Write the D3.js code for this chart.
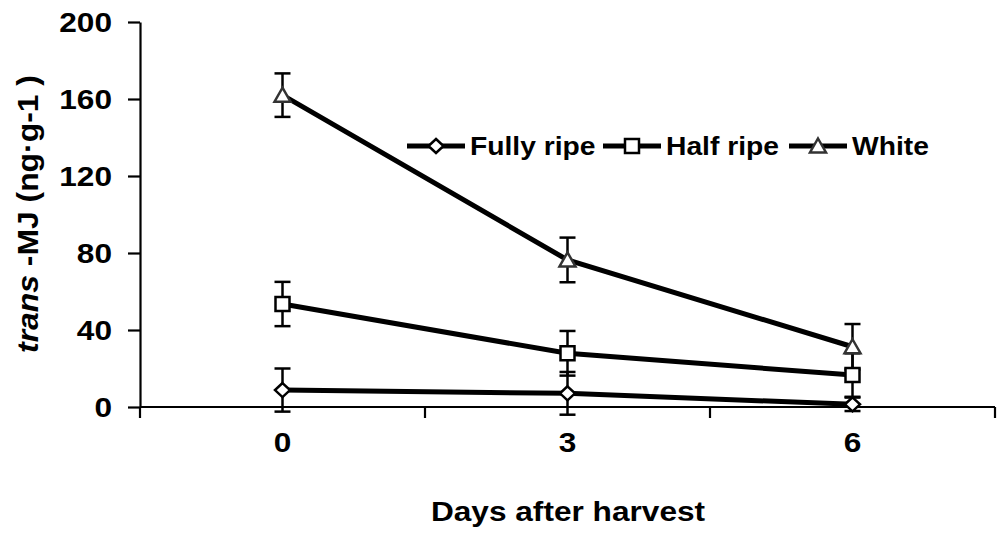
<!DOCTYPE html>
<html>
<head>
<meta charset="utf-8">
<script src="https://cdn.jsdelivr.net/npm/d3@7"></script>
<style>
  body { margin: 0; background: #fff; }
  svg { display: block; font-family: Arial, "Liberation Sans", sans-serif; font-weight: bold; }
</style>
</head>
<body>
<div id="chart"></div>
<script>
const days = ["0", "3", "6"];
const seriesNames = ["Fully ripe", "Half ripe", "White"];
const fullyRipe = [8.8, 7.1, 1.4];
const fullyRipeSd = [11.2, 11.1, 3.5];
const halfRipe = [53.5, 27.9, 16.6];
const halfRipeSd = [11.5, 11.6, 11.3];
const white = [162, 76.4, 31.3];
const whiteSd = [11.3, 11.6, 11.8];
const yTicks = [0, 40, 80, 120, 160, 200];

const width = 998, height = 533;
const stretch = 1.13; // text in the original is a bit wider than normal

const svg = d3.select("#chart").append("svg")
  .attr("width", width)
  .attr("height", height);

const x = d3.scaleBand().domain(days).range([140, 995]).padding(0);
const y = d3.scaleLinear().domain([0, 200]).range([407, 22]);

// y axis
svg.append("g")
  .attr("transform", "translate(140,0)")
  .call(d3.axisLeft(y).tickValues(yTicks).tickSize(12).tickSizeOuter(0).tickFormat(""))
  .call(g => g.selectAll("path, line").attr("stroke", "#000").attr("stroke-width", 2.2));

svg.append("g").selectAll("text")
  .data(yTicks)
  .enter().append("text")
  .attr("transform", d => `translate(112,${y(d) + 10}) scale(${stretch},1)`)
  .attr("text-anchor", "end")
  .style("font-size", "28px")
  .text(d => d);

// x axis
svg.append("line")
  .attr("x1", x.range()[0]).attr("x2", x.range()[1])
  .attr("y1", y(0)).attr("y2", y(0))
  .attr("stroke", "#000").attr("stroke-width", 2.2);

const edges = days.map(d => x(d)).concat([x.range()[1]]);
svg.append("g").selectAll("line")
  .data(edges)
  .enter().append("line")
  .attr("x1", d => d).attr("x2", d => d)
  .attr("y1", y(0)).attr("y2", y(0) + 11)
  .attr("stroke", "#000").attr("stroke-width", 2.2);

svg.append("g").selectAll("text")
  .data(days)
  .enter().append("text")
  .attr("transform", d => `translate(${x(d) + x.bandwidth() / 2},452) scale(${stretch},1)`)
  .attr("text-anchor", "middle")
  .style("font-size", "28px")
  .text(d => d);

svg.append("text")
  .attr("transform", `translate(568,521) scale(${stretch},1)`)
  .attr("text-anchor", "middle")
  .style("font-size", "28px")
  .text("Days after harvest");

// y title
const yTitle = svg.append("text")
  .attr("text-anchor", "middle")
  .style("font-size", "26px");
yTitle.append("tspan").style("font-style", "italic").text("trans");
yTitle.append("tspan").text(" -MJ (ng·g-1 )");
const natural = yTitle.node().getComputedTextLength();
yTitle.attr("transform", `translate(38,214) rotate(-90) scale(${278 / natural},${stretch})`);

// series
const series = [
  { name: seriesNames[0], values: fullyRipe, sd: fullyRipeSd, shape: "diamond", color: "#000" },
  { name: seriesNames[1], values: halfRipe, sd: halfRipeSd, shape: "square", color: "#000" },
  { name: seriesNames[2], values: white, sd: whiteSd, shape: "triangle", color: "#333" }
];

function markerPath(shape) {
  if (shape === "diamond") return "M0,-7L7.5,0L0,7L-7.5,0Z";
  if (shape === "square") return "M-7,-7H7V7H-7Z";
  return "M0,-7.5L8,6.5L-8,6.5Z";
}

const cx = d => x(d) + x.bandwidth() / 2;
const line = d3.line().x(d => cx(d.day)).y(d => y(d.v));

series.forEach(s => {
  const pts = days.map((d, i) => ({ day: d, v: s.values[i], sd: s.sd[i] }));
  const eb = svg.append("g").attr("stroke", "#000").attr("stroke-width", 2.5);
  eb.selectAll(".v").data(pts).enter().append("line")
    .attr("x1", d => cx(d.day)).attr("x2", d => cx(d.day))
    .attr("y1", d => y(d.v - d.sd)).attr("y2", d => y(d.v + d.sd));
  eb.selectAll(".t").data(pts.flatMap(p => [p.v - p.sd, p.v + p.sd].map(v => ({ day: p.day, v }))))
    .enter().append("line")
    .attr("x1", d => cx(d.day) - 8).attr("x2", d => cx(d.day) + 8)
    .attr("y1", d => y(d.v)).attr("y2", d => y(d.v));
  s.pts = pts;
});

series.forEach(s => {
  svg.append("path")
    .datum(s.pts)
    .attr("d", line)
    .attr("fill", "none")
    .attr("stroke", "#000")
    .attr("stroke-width", 5);
});

series.forEach(s => {
  svg.append("g").selectAll("path")
    .data(s.pts)
    .enter().append("path")
    .attr("transform", d => `translate(${cx(d.day)},${y(d.v)})`)
    .attr("d", markerPath(s.shape))
    .attr("fill", "#fff")
    .attr("stroke", s.color)
    .attr("stroke-width", 2.5);
});

// legend
const legendX = [470, 666, 852];
const legendY = 155;
series.forEach((s, i) => {
  const g = svg.append("g");
  g.append("line")
    .attr("x1", legendX[i] - 63).attr("x2", legendX[i] - 5)
    .attr("y1", legendY - 9).attr("y2", legendY - 9)
    .attr("stroke", "#000").attr("stroke-width", 5);
  g.append("path")
    .attr("transform", `translate(${legendX[i] - 34},${legendY - 9})`)
    .attr("d", markerPath(s.shape))
    .attr("fill", "#fff")
    .attr("stroke", s.color)
    .attr("stroke-width", 2.5);
  g.append("text")
    .attr("transform", `translate(${legendX[i]},${legendY}) scale(${stretch},1)`)
    .style("font-size", "25px")
    .text(s.name);
});
</script>
</body>
</html>
